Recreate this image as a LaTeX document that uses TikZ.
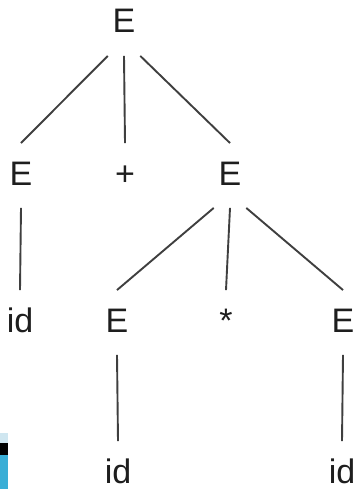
\documentclass[tikz,border=0pt]{standalone}
\usepackage{fontspec}
\setmainfont{Liberation Sans}
\usetikzlibrary{positioning}
\definecolor{cline}{HTML}{3F3F3F}
\definecolor{ctext}{HTML}{1E1E1E}
\definecolor{cpale}{HTML}{CFE6F0}
\definecolor{ccyan}{HTML}{3AAED6}
\tikzset{
  every picture/.style={line width=1.9pt},
  sym/.style={font=\fontsize{34}{40}\selectfont, text=ctext, inner xsep=4pt, inner ysep=0pt, text height=41pt, text depth=22pt, anchor=base},
  branch/.style={draw=cline, line width=1.9pt},
}
\begin{document}
\begin{tikzpicture}[x=1pt, y=-1pt]
  \useasboundingbox (0,0) rectangle (358,489);
  % corner of the slide graphic
  \fill[cpale] (0,433) rectangle (8,443);
  \fill[black] (0,443) rectangle (8,455);
  \fill[ccyan] (0,455) rectangle (8,489);
  % symbols
  \node[sym] (root) at (124,33) {E};
  \node[sym] (e1) at (21,185) {E};
  \node[sym] (plus) at (125,185) {+};
  \node[sym] (e2) at (230,185) {E};
  \node[sym] (id1) at (20,332) {id};
  \node[sym] (e3) at (117,332) {E};
  \node[sym] (star) at (226,332) {*};
  \node[sym] (e4) at (343,332) {E};
  \node[sym] (id2) at (118,483) {id};
  \node[sym] (id3) at (342,483) {id};
  % branches
  \draw[branch] (root.south west) -- (e1.north);
  \draw[branch] (root.south) -- (plus.north);
  \draw[branch] (root.south east) -- (e2.north);
  \draw[branch] (e1.south) -- (id1.north);
  \draw[branch] (e2.south west) -- (e3.north);
  \draw[branch] (e2.south) -- (star.north);
  \draw[branch] (e2.south east) -- (e4.north);
  \draw[branch] (e3.south) -- (id2.north);
  \draw[branch] (e4.south) -- (id3.north);
\end{tikzpicture}
\end{document}
